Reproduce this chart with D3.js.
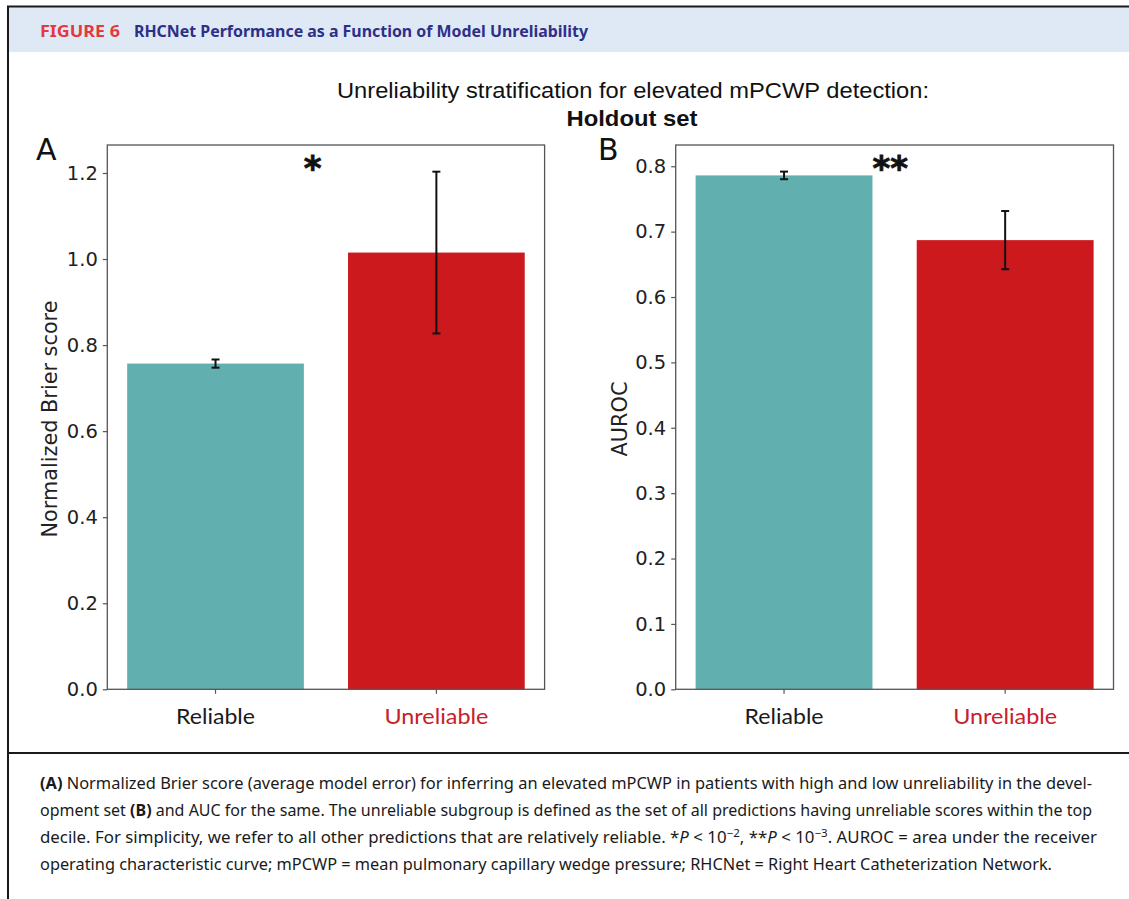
<!DOCTYPE html>
<html><head><meta charset="utf-8">
<script src="https://cdn.jsdelivr.net/npm/d3@7"></script>
<style>body{margin:0;background:#fff} svg{display:block}</style>
</head><body>
<svg id="c" width="1129" height="899"></svg>
<script>
// ---- data ----
const categories = ["Reliable", "Unreliable"];
const brierValues = [0.757, 1.015];
const brierErrors = [0.0095, 0.188];
const aurocValues = [0.786, 0.687];
const aurocErrors = [0.0058, 0.0445];
const brierTicks = [0.0, 0.2, 0.4, 0.6, 0.8, 1.0, 1.2];
const aurocTicks = [0.0, 0.1, 0.2, 0.3, 0.4, 0.5, 0.6, 0.7, 0.8];
const brierDomain = [0, 1.265];
const aurocDomain = [0, 0.8325];
const panelLetters = ["A", "B"];
const yLabels = ["Normalized Brier score", "AUROC"];
const signif = ["*", "**"];
const headerLabel = "FIGURE 6";
const headerTitle = "RHCNet Performance as a Function of Model Unreliability";
const chartTitle = ["Unreliability stratification for elevated mPCWP detection:", "Holdout set"];

const teal = "#62afb0", red = "#cb191e", catColors = [teal, red];
const labelColors = ["#1a1a1a", "#c8202b"];

const svg = d3.select("#c");

// ---- frame & header ----
svg.append("rect").attr("x", 8).attr("y", 7).attr("width", 1121).attr("height", 45).attr("fill", "#dfe9f5");
svg.append("line").attr("x1", 7).attr("x2", 1129).attr("y1", 6.5).attr("y2", 6.5).attr("stroke", "#1a1a1a").attr("stroke-width", 2);
svg.append("line").attr("x1", 8).attr("x2", 8).attr("y1", 6).attr("y2", 899).attr("stroke", "#1a1a1a").attr("stroke-width", 2);
svg.append("line").attr("x1", 8).attr("x2", 1129).attr("y1", 753).attr("y2", 753).attr("stroke", "#1a1a1a").attr("stroke-width", 2);

svg.append("text").attr("x", 40).attr("y", 37).text(headerLabel)
  .attr("font-family", "'Noto Sans'").attr("font-weight", "bold").attr("font-size", 16)
  .attr("fill", "#e3393f").attr("textLength", 80).attr("lengthAdjust", "spacingAndGlyphs");
svg.append("text").attr("x", 134).attr("y", 37).text(headerTitle)
  .attr("font-family", "'Noto Sans'").attr("font-weight", "bold").attr("font-size", 16.5)
  .attr("fill", "#2e2f88").attr("textLength", 454).attr("lengthAdjust", "spacingAndGlyphs");

// ---- chart title ----
svg.append("text").attr("x", 633).attr("y", 98).attr("text-anchor", "middle").text(chartTitle[0])
  .attr("font-family", "'Liberation Sans', Arial").attr("font-size", 22).attr("fill", "#111")
  .attr("textLength", 592).attr("lengthAdjust", "spacingAndGlyphs");
svg.append("text").attr("x", 632).attr("y", 126).attr("text-anchor", "middle").text(chartTitle[1])
  .attr("font-family", "'Liberation Sans', Arial").attr("font-weight", "bold").attr("font-size", 22).attr("fill", "#111")
  .attr("textLength", 131).attr("lengthAdjust", "spacingAndGlyphs");

// ---- panels ----
const panels = [
  {left: 107.3, right: 544.6, values: brierValues, errors: brierErrors, ticks: brierTicks, domain: brierDomain,
   letterX: 36, ylabelX: 49.7, fmt: d3.format(".1f")},
  {left: 675.7, right: 1113.5, values: aurocValues, errors: aurocErrors, ticks: aurocTicks, domain: aurocDomain,
   letterX: 598, ylabelX: 619, fmt: d3.format(".1f")}
];
const plotTop = 145, plotBottom = 689.3;

panels.forEach((p, pi) => {
  const g = svg.append("g");
  const x = d3.scaleBand().domain(categories).range([p.left, p.right]).paddingInner(0.2).paddingOuter(0.09);
  const y = d3.scaleLinear().domain(p.domain).range([plotBottom, plotTop]);

  // bars
  g.selectAll("rect.bar").data(categories).join("rect").attr("class", "bar")
    .attr("x", d => x(d)).attr("width", x.bandwidth())
    .attr("y", (d, i) => y(p.values[i])).attr("height", (d, i) => y(0) - y(p.values[i]))
    .attr("fill", (d, i) => catColors[i]);

  // error bars
  const eb = g.selectAll("g.err").data(categories).join("g").attr("class", "err");
  eb.append("line").attr("x1", d => x(d) + x.bandwidth() / 2).attr("x2", d => x(d) + x.bandwidth() / 2)
    .attr("y1", (d, i) => y(p.values[i] - p.errors[i])).attr("y2", (d, i) => y(p.values[i] + p.errors[i]))
    .attr("stroke", "#111").attr("stroke-width", 2);
  [-1, 1].forEach(s => {
    eb.append("line").attr("x1", d => x(d) + x.bandwidth() / 2 - 4).attr("x2", d => x(d) + x.bandwidth() / 2 + 4)
      .attr("y1", (d, i) => y(p.values[i] + s * p.errors[i])).attr("y2", (d, i) => y(p.values[i] + s * p.errors[i]))
      .attr("stroke", "#111").attr("stroke-width", 2);
  });

  // frame
  g.append("rect").attr("x", p.left).attr("y", plotTop).attr("width", p.right - p.left).attr("height", plotBottom - plotTop)
    .attr("fill", "none").attr("stroke", "#555").attr("stroke-width", 1.3);

  // y axis
  const ya = g.append("g").attr("transform", `translate(${p.left},0)`)
    .call(d3.axisLeft(y).tickValues(p.ticks).tickFormat(p.fmt).tickSize(4.5).tickPadding(5));
  ya.select(".domain").remove();
  ya.selectAll(".tick line").attr("stroke", "#555").attr("stroke-width", 1.2);
  ya.selectAll(".tick text").attr("font-family", "'DejaVu Sans'").attr("font-size", 19.5).attr("fill", "#222");

  // x axis
  const xa = g.append("g").attr("transform", `translate(0,${plotBottom})`)
    .call(d3.axisBottom(x).tickSize(4.5).tickPadding(15));
  xa.select(".domain").remove();
  xa.selectAll(".tick line").attr("stroke", "#555").attr("stroke-width", 1.2);
  xa.selectAll(".tick text").attr("font-family", "Lato").attr("font-size", 22)
    .attr("fill", (d, i) => labelColors[i])
    .attr("textLength", (d, i) => i === 0 ? 79 : 104).attr("lengthAdjust", "spacingAndGlyphs");

  // y label
  g.append("text").attr("transform", `translate(${p.ylabelX},419) rotate(-90)`)
    .attr("text-anchor", "middle").attr("dy", "0.36em").text(yLabels[pi])
    .attr("font-family", "'DejaVu Sans'").attr("font-size", 20.8).attr("fill", "#222");

  // panel letter
  g.append("text").attr("x", p.letterX).attr("y", 160).text(panelLetters[pi])
    .attr("font-family", "'DejaVu Sans'").attr("font-size", 30).attr("fill", "#111");

  // significance
  g.append("text").attr("x", x(categories[0]) + x.bandwidth()).attr("y", 180).text(signif[pi])
    .attr("font-family", "'DejaVu Sans'").attr("font-weight", "bold").attr("font-size", 34)
    .attr("fill", "#111").attr("stroke", "#111").attr("stroke-width", 0.8);
});

// ---- caption ----
const capFont = "'Noto Sans'";
const cap = svg.append("g").attr("font-family", capFont).attr("font-size", 16).attr("fill", "#1a1a1a");
const lines = [
  [["b", "(A)"], ["n", " Normalized Brier score (average model error) for inferring an elevated mPCWP in patients with high and low unreliability in the devel-"]],
  [["n", "opment set "], ["b", "(B)"], ["n", " and AUC for the same. The unreliable subgroup is defined as the set of all predictions having unreliable scores within the top"]],
  [["n", "decile. For simplicity, we refer to all other predictions that are relatively reliable. *"], ["i", "P"], ["n", " < 10"], ["s", "\u22122"], ["n", ", **"], ["i", "P"], ["n", " < 10"], ["s", "\u22123"], ["n", ". AUROC = area under the receiver"]],
  [["n", "operating characteristic curve; mPCWP = mean pulmonary capillary wedge pressure; RHCNet = Right Heart Catheterization Network."]]
];
const capY = [789, 816, 843, 870];
const capW = [1052, 1052, 1057, 1012];
lines.forEach((ln, li) => {
  const t = cap.append("text").attr("x", 40).attr("y", capY[li])
    .attr("textLength", capW[li]).attr("lengthAdjust", "spacingAndGlyphs");
  ln.forEach(([k, s]) => {
    const ts = t.append("tspan").text(s);
    if (k === "b") ts.attr("font-weight", "bold");
    if (k === "i") ts.attr("font-style", "italic");
    if (k === "s") ts.attr("font-size", 11).attr("dy", -6);
    if (k === "n" && li === 2 && (s.startsWith(",") || s.startsWith("."))) ts.attr("dy", 6);
  });
});
</script>
</body></html>
